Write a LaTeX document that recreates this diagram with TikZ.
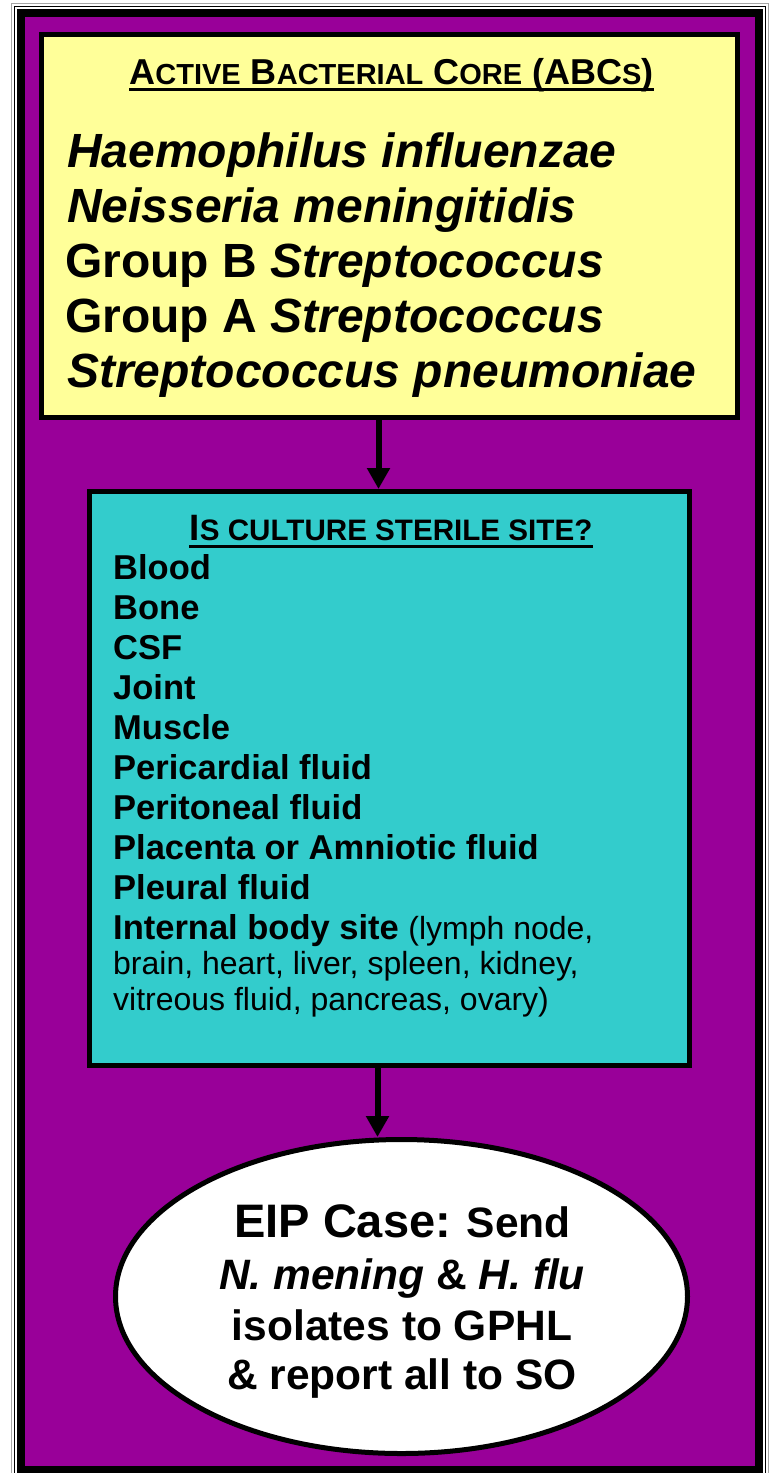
\documentclass[tikz,border=0pt]{standalone}
\usepackage{fontspec}
\setmainfont{Liberation Sans}
\usetikzlibrary{arrows.meta,shapes.geometric}
\definecolor{purp}{HTML}{990099}
\definecolor{yel}{HTML}{FFFF99}
\definecolor{teal2}{HTML}{33CCCC}
\newcommand{\smc}[1]{{\fontsize{29}{29}\selectfont #1}}
\newcommand{\smcb}[1]{{\fontsize{29.6}{29.6}\selectfont #1}}
\tikzset{
  boxstyle/.style={draw=black, line width=5pt, inner sep=0pt, rectangle},
  txt/.style={inner sep=0pt, anchor=base west},
  hd/.style={inner sep=0pt, anchor=base, font=\fontsize{36}{40}\selectfont\bfseries},
  arr/.style={line width=6pt, -{Triangle[width=22pt,length=21pt]}},
  ul/.style={line width=3pt}
}
\begin{document}
\begin{tikzpicture}[x=1pt,y=-1pt]
\useasboundingbox (0,0) rectangle (773,1473);
\clip (0,0) rectangle (773,1473);
% frame
\fill[white] (0,0) rectangle (773,1473);
\draw[gray!70, line width=1.2pt] (11.5,3.5) rectangle (768.5,1490);
\draw[black, line width=1.2pt] (14.5,6.5) rectangle (765.5,1490);
\fill[black] (17,9) rectangle (763,1490);
\fill[purp] (25,17) rectangle (755,1466);
% boxes
\node[boxstyle, fill=yel, minimum width=696pt, minimum height=383pt] (abc) at (389.5,226) {};
\node[boxstyle, fill=teal2, minimum width=600pt, minimum height=574pt] (cul) at (389.5,778.5) {};
\node[draw=black, line width=5pt, fill=white, ellipse, inner sep=0pt, minimum width=572pt, minimum height=314pt] (eip) at (401.5,1296.5) {};
% connectors
\coordinate (ax1) at (378.5,0);
\coordinate (ax2) at (377.5,0);
\draw[arr] (abc.south -| ax1) -- (cul.north -| ax1);
\draw[arr] (cul.south -| ax2) -- (eip.north -| ax2);
% yellow text
\node[hd] (h1) at (391.5,84) {A\smc{CTIVE} B\smc{ACTERIAL} C\smc{ORE} (ABC\smc{S})};
\draw[ul] ([yshift=-5.5pt]h1.base west) -- ([yshift=-5.5pt]h1.base east);
\begin{scope}[every node/.style={txt, font=\fontsize{48}{55}\selectfont\bfseries}]
\node (s1) at (67,167) {\textit{Haemophilus influenzae}};
\node (s2) at (67,222) {\textit{Neisseria meningitidis}};
\node (s3) at (65,277) {Group B \textit{Streptococcus}};
\node (s4) at (65,332) {Group A \textit{Streptococcus}};
\node (s5) at (67,387) {\textit{Streptococcus pneumoniae}};
\end{scope}
% teal text
\node[hd, font=\fontsize{36.7}{40}\selectfont\bfseries] (h2) at (391,540) {I\smcb{S CULTURE STERILE SITE?}};
\draw[ul] ([yshift=-6pt]h2.base west) -- ([yshift=-6pt]h2.base east);
\begin{scope}[every node/.style={txt, font=\fontsize{34.5}{40}\selectfont\bfseries}]
\node (l1) at (113,579) {Blood};
\node (l2) at (113,619) {Bone};
\node (l3) at (113,659) {CSF};
\node (l4) at (113,699) {Joint};
\node (l5) at (113,739) {Muscle};
\node (l6) at (113,779) {Pericardial fluid};
\node (l7) at (113,819) {Peritoneal fluid};
\node (l8) at (113,859) {Placenta or Amniotic fluid};
\node (l9) at (113,899) {Pleural fluid};
\node (l10) at (113,939) {Internal body site {\fontsize{32}{36}\selectfont\mdseries (lymph node,}};
\end{scope}
\begin{scope}[every node/.style={txt, font=\fontsize{32}{36}\selectfont}]
\node (l11) at (113,974) {brain, heart, liver, spleen, kidney,};
\node (l12) at (113,1010) {vitreous fluid, pancreas, ovary)};
\end{scope}
% ellipse text
\begin{scope}[every node/.style={inner sep=0pt, anchor=base, font=\fontsize{42.5}{51}\selectfont\bfseries}]
\node (e1) at (402.5,1237) {{\fontsize{47}{51}\selectfont EIP Case:} Send};
\node (e2) at (402,1289) {\textit{N. mening} \& \textit{H. flu}};
\node (e3) at (402,1340) {isolates to GPHL};
\node (e4) at (402,1389) {\& report all to SO};
\end{scope}
\end{tikzpicture}
\end{document}
